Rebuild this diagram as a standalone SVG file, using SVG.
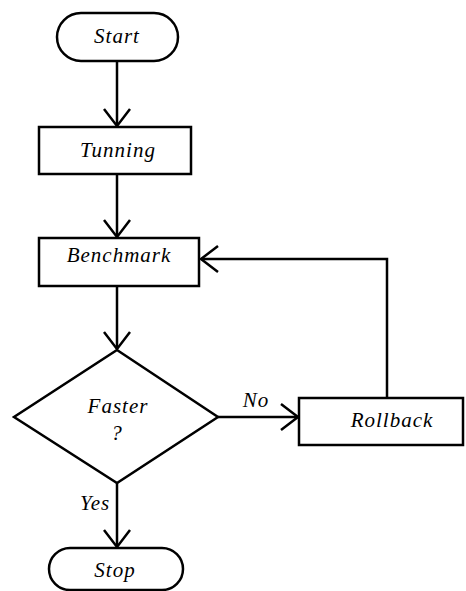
<svg xmlns="http://www.w3.org/2000/svg" width="466" height="591" viewBox="0 0 466 591">
<style>
.shape{fill:#fff;stroke:#000;stroke-width:2.5}
.line{fill:none;stroke:#000;stroke-width:2.5}
.t{font-family:'Liberation Serif','Times New Roman','DejaVu Serif',serif;font-style:italic;font-size:21px;letter-spacing:1px;fill:#000;text-anchor:middle}
</style>
<defs>
<marker id="arr" markerUnits="userSpaceOnUse" markerWidth="40" markerHeight="40" viewBox="-20 -20 40 40" refX="0" refY="0" orient="auto">
<path d="M-17,-13 L0,0 L-17,13" fill="none" stroke="#000" stroke-width="2.5"/>
</marker>
</defs>
<g id="connectors">
<line class="line" x1="117" y1="61" x2="117" y2="126" marker-end="url(#arr)"/>
<line class="line" x1="117" y1="174" x2="117" y2="237" marker-end="url(#arr)"/>
<line class="line" x1="117" y1="286" x2="117" y2="349" marker-end="url(#arr)"/>
<line class="line" x1="117" y1="483" x2="117" y2="547" marker-end="url(#arr)"/>
<line class="line" x1="218" y1="417" x2="298" y2="417" marker-end="url(#arr)"/>
<polyline class="line" points="387,398 387,259 201,259" marker-end="url(#arr)"/>
<text class="t" x="256" y="407">No</text>
<text class="t" x="95" y="510">Yes</text>
</g>
<g id="start">
<rect class="shape" x="57" y="13" width="121" height="48" rx="24"/>
<text class="t" x="117" y="43">Start</text>
</g>
<g id="tunning">
<rect class="shape" x="39" y="127" width="152" height="47"/>
<text class="t" x="118" y="157">Tunning</text>
</g>
<g id="benchmark">
<rect class="shape" x="39" y="238" width="160" height="48"/>
<text class="t" x="119" y="262">Benchmark</text>
</g>
<g id="faster">
<polygon class="shape" points="117,350 218,417 117,483 14,417"/>
<text class="t" x="118" y="413">Faster</text>
<text class="t" x="117" y="440">?</text>
</g>
<g id="rollback">
<rect class="shape" x="299" y="398" width="164" height="47"/>
<text class="t" x="392" y="427">Rollback</text>
</g>
<g id="stop">
<rect class="shape" x="49" y="548" width="134" height="42" rx="21"/>
<text class="t" x="115" y="577">Stop</text>
</g>
</svg>
